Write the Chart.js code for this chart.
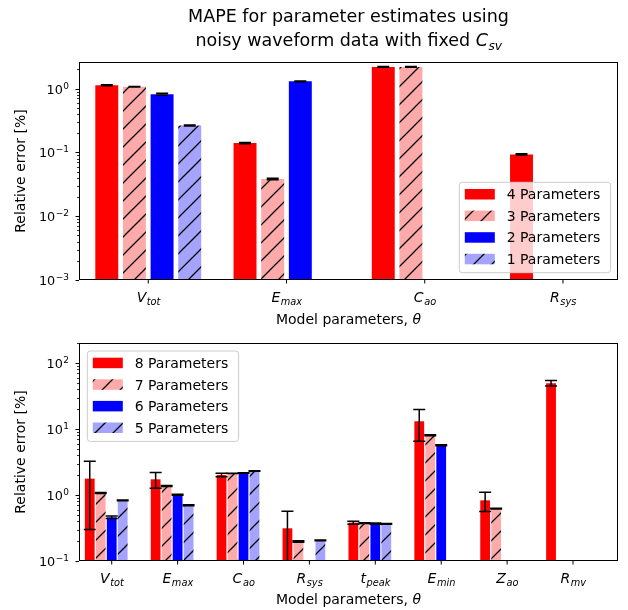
<!DOCTYPE html>
<html><head><meta charset="utf-8">
<script src="https://cdn.jsdelivr.net/npm/chart.js@4.4.1/dist/chart.umd.min.js"></script>
<style>
html,body{margin:0;padding:0;background:#fff;}
#wrap{position:relative;width:628px;height:610px;overflow:hidden;}
canvas{position:absolute;left:0;}
</style>
</head><body>
<div id="wrap">
<canvas id="c1" width="628" height="330" style="top:0px"></canvas>
<canvas id="c2" width="628" height="280" style="top:330px"></canvas>
</div>
<script>
// ---------------- DATA ----------------
const topCategories = ['V_tot', 'E_max', 'C_ao', 'R_sys'];
const topSeriesNames = ['4 Parameters', '3 Parameters', '2 Parameters', '1 Parameters'];
const top4Params = [1.13, 0.14, 2.18, 0.093];
const top3Params = [1.07, 0.0383, 2.18, null];
const top2Params = [0.815, 1.30, null, null];
const top1Params = [0.264, null, null, null];
const top4Err = [0.02, 0.003, 0.03, 0.002];
const top3Err = [0.012, 0.001, 0.03, null];
const top2Err = [0.03, 0.02, null, null];
const top1Err = [0.004, null, null, null];
const topYTickExponents = [-3, -2, -1, 0];

const botCategories = ['V_tot', 'E_max', 'C_ao', 'R_sys', 't_peak', 'E_min', 'Z_ao', 'R_mv'];
const botSeriesNames = ['8 Parameters', '7 Parameters', '6 Parameters', '5 Parameters'];
const bot8Params = [1.77, 1.73, 2.01, 0.313, 0.381, 13.1, 0.83, 49.5];
const bot7Params = [1.07, 1.37, 2.13, 0.198, 0.375, 8.05, 0.622, null];
const bot6Params = [0.459, 1.01, 2.15, null, 0.37, 5.68, null, null];
const bot5Params = [0.83, 0.70, 2.31, 0.205, 0.365, null, null, null];
const bot8Err = [1.47, 0.46, 0.12, 0.253, 0.02, 6.6, 0.27, 4.7];
const bot7Err = [0.02, 0.02, 0.01, 0.005, 0.005, 0.15, 0.01, null];
const bot6Err = [0.02, 0.02, 0.02, null, 0.005, 0.1, null, null];
const bot5Err = [0.01, 0.01, 0.02, 0.003, 0.005, null, null, null];
const botYTickExponents = [-1, 0, 1, 2];

const titleLine1 = 'MAPE for parameter estimates using';
const titleLine2 = 'noisy waveform data with fixed ';
const titleSymbol = 'C_sv';
const yAxisTitle = 'Relative error [%]';
const xAxisTitle = 'Model parameters, ';
const xAxisSymbol = '\u03B8';

// ---------------- STYLE ----------------
const FAM = '"DejaVu Sans", sans-serif';
const RED = '#ff0000', PINK = '#ffaaaa', BLUE = '#0000ff', LBLUE = '#a4a4ff';

function hatch(ctx, color) {
  const s = 18;
  const c = document.createElement('canvas');
  c.width = s; c.height = s;
  const g = c.getContext('2d');
  g.fillStyle = color; g.fillRect(0, 0, s, s);
  g.strokeStyle = '#000'; g.lineWidth = 1.3;
  g.beginPath();
  for (const k of [-s, 0, s]) { g.moveTo(k - 1, s + 1); g.lineTo(k + s + 1, -1); }
  g.stroke();
  return ctx.createPattern(c, 'repeat');
}

function drawSubLabel(ctx, txt, cx, baseline, size) {
  const parts = txt.split('_');
  const m = parts[0], s = parts[1];
  const mf = `italic ${size}px ${FAM}`, sf = `italic ${(size * 0.7).toFixed(1)}px ${FAM}`;
  ctx.font = mf; const mw = ctx.measureText(m).width;
  ctx.font = sf; const sw = s ? ctx.measureText(s).width : 0;
  const x = cx - (mw + sw) / 2;
  ctx.textAlign = 'left'; ctx.textBaseline = 'alphabetic';
  ctx.font = mf; ctx.fillText(m, x, baseline);
  if (s) { ctx.font = sf; ctx.fillText(s, x + mw + 0.5, baseline + size * 0.22); }
  return mw + sw;
}

function drawPow(ctx, exp, right, cy, size) {
  const base = '10', ex = (exp < 0 ? '\u2212' : '') + Math.abs(exp);
  const bf = `${size}px ${FAM}`, ef = `${(size * 0.7).toFixed(1)}px ${FAM}`;
  ctx.font = ef; const ew = ctx.measureText(ex).width;
  ctx.font = bf; const bw = ctx.measureText(base).width;
  const x0 = right - ew - bw - 0.5;
  const bl = cy + size * 0.36;
  ctx.textAlign = 'left'; ctx.textBaseline = 'alphabetic';
  ctx.fillText(base, x0, bl);
  ctx.font = ef; ctx.fillText(ex, x0 + bw + 0.5, bl - size * 0.37);
}

const decor = {
  id: 'decor',
  afterDraw(chart, args, o) {
    const ctx = chart.ctx, a = chart.chartArea;
    const xs = chart.scales.x, ys = chart.scales.y;
    ctx.save();
    ctx.fillStyle = '#000';
    // error bars
    ctx.save();
    ctx.beginPath(); ctx.rect(a.left, a.top, a.right - a.left, a.bottom - a.top); ctx.clip();
    ctx.strokeStyle = '#000'; ctx.lineWidth = 1.5;
    const cap = 6;
    o.errors.forEach((errs, di) => {
      const meta = chart.getDatasetMeta(di);
      const vals = chart.data.datasets[di].data;
      errs.forEach((e, i) => {
        const v = vals[i].y;
        if (v == null || e == null) return;
        const x = meta.data[i].x;
        const yHi = ys.getPixelForValue(v + e);
        const lo = v - e;
        const yLo = lo > 0 ? ys.getPixelForValue(lo) : a.bottom + 30;
        ctx.beginPath();
        ctx.moveTo(x, yHi); ctx.lineTo(x, yLo);
        ctx.moveTo(x - cap, yHi); ctx.lineTo(x + cap, yHi);
        ctx.moveTo(x - cap, yLo); ctx.lineTo(x + cap, yLo);
        ctx.stroke();
      });
    });
    ctx.restore();

    // frame
    ctx.strokeStyle = '#000'; ctx.lineWidth = 1;
    ctx.strokeRect(a.left + 0.5, a.top + 0.5, a.right - a.left - 1, a.bottom - a.top - 1);

    // x ticks & labels
    o.categories.forEach((c, i) => {
      const px = xs.getPixelForValue(i + o.xShift);
      ctx.beginPath(); ctx.moveTo(px, a.bottom); ctx.lineTo(px, a.bottom + 3.5); ctx.stroke();
      drawSubLabel(ctx, c, px, o.xLabelBaseline, 14);
    });

    // y ticks major + minor
    const lmin = Math.log10(ys.min), lmax = Math.log10(ys.max);
    ctx.lineWidth = 0.8;
    for (let k = Math.floor(lmin); k <= Math.ceil(lmax); k++) {
      for (let m = 2; m <= 9; m++) {
        const v = m * Math.pow(10, k);
        if (v < ys.min || v > ys.max) continue;
        const py = Math.round(ys.getPixelForValue(v)) + 0.5;
        ctx.beginPath(); ctx.moveTo(a.left - 2, py); ctx.lineTo(a.left, py); ctx.stroke();
      }
    }
    ctx.lineWidth = 1;
    o.yExps.forEach(e => {
      const py = Math.round(ys.getPixelForValue(Math.pow(10, e))) + 0.5;
      ctx.beginPath(); ctx.moveTo(a.left - 3.5, py); ctx.lineTo(a.left, py); ctx.stroke();
      drawPow(ctx, e, 69, py, 12.8);
    });

    // y axis title
    ctx.save();
    ctx.translate(21, (a.top + a.bottom) / 2);
    ctx.rotate(-Math.PI / 2);
    ctx.font = `14px ${FAM}`; ctx.textAlign = 'center'; ctx.textBaseline = 'middle';
    ctx.fillText(yAxisTitle, 0, 0);
    ctx.restore();

    // x axis title
    ctx.font = `14px ${FAM}`;
    const w1 = ctx.measureText(xAxisTitle).width;
    ctx.font = `italic 14px ${FAM}`;
    const w2 = ctx.measureText(xAxisSymbol).width;
    const xc = (a.left + a.right) / 2;
    let x0 = xc - (w1 + w2) / 2;
    ctx.textAlign = 'left'; ctx.textBaseline = 'alphabetic';
    ctx.font = `14px ${FAM}`; ctx.fillText(xAxisTitle, x0, o.xTitleBaseline);
    ctx.font = `italic 14px ${FAM}`; ctx.fillText(xAxisSymbol, x0 + w1, o.xTitleBaseline);

    // legend
    const L = o.legend;
    const bx = L.x, by = L.y, bw = 151.3, bh = 90.4, r = 3;
    ctx.beginPath();
    ctx.moveTo(bx + r, by); ctx.lineTo(bx + bw - r, by); ctx.quadraticCurveTo(bx + bw, by, bx + bw, by + r);
    ctx.lineTo(bx + bw, by + bh - r); ctx.quadraticCurveTo(bx + bw, by + bh, bx + bw - r, by + bh);
    ctx.lineTo(bx + r, by + bh); ctx.quadraticCurveTo(bx, by + bh, bx, by + bh - r);
    ctx.lineTo(bx, by + r); ctx.quadraticCurveTo(bx, by, bx + r, by);
    ctx.closePath();
    ctx.fillStyle = 'rgba(255,255,255,0.8)'; ctx.fill();
    ctx.strokeStyle = '#cccccc'; ctx.lineWidth = 1; ctx.stroke();
    chart.data.datasets.forEach((ds, k) => {
      const cy = by + 11.9 + k * 21.6;
      ctx.fillStyle = ds.backgroundColor;
      ctx.fillRect(bx + 5.5, cy - 5.2, 30, 10.5);
      ctx.fillStyle = '#000';
      ctx.font = `14px ${FAM}`; ctx.textAlign = 'left'; ctx.textBaseline = 'alphabetic';
      ctx.fillText(ds.label, bx + 47.4, cy + 5);
    });

    // title
    if (o.title) {
      ctx.fillStyle = '#000';
      ctx.textAlign = 'center'; ctx.textBaseline = 'alphabetic';
      ctx.font = `17.5px ${FAM}`;
      ctx.fillText(titleLine1, xc, 22);
      const tw = ctx.measureText(titleLine2).width;
      const [sm, ss] = titleSymbol.split('_');
      ctx.font = `italic 17.5px ${FAM}`; const smw = ctx.measureText(sm).width;
      ctx.font = `italic 12.2px ${FAM}`; const ssw = ctx.measureText(ss).width;
      const tx = xc - (tw + smw + ssw) / 2;
      ctx.textAlign = 'left';
      ctx.font = `17.5px ${FAM}`; ctx.fillText(titleLine2, tx, 46);
      ctx.font = `italic 17.5px ${FAM}`; ctx.fillText(sm, tx + tw, 46);
      ctx.font = `italic 12.2px ${FAM}`; ctx.fillText(ss, tx + tw + smw + 0.5, 49.5);
    }
    ctx.restore();
  }
};

function buildChart(canvasId, cats, names, series, errs, cfg) {
  const canvas = document.getElementById(canvasId);
  const ctx = canvas.getContext('2d');
  const fills = [RED, hatch(ctx, PINK), BLUE, hatch(ctx, LBLUE)];
  const datasets = series.map((vals, k) => ({
    label: names[k],
    data: vals.map((v, i) => ({ x: i, y: v })),
    backgroundColor: fills[k],
    borderWidth: 0,
    categoryPercentage: cfg.catPct,
    barPercentage: cfg.barPct,
  }));
  return new Chart(ctx, {
    type: 'bar',
    data: { datasets },
    options: {
      responsive: false, animation: false, devicePixelRatio: 1,
      layout: { padding: cfg.padding },
      scales: {
        x: {
          type: 'linear', display: false, offset: false, min: cfg.xMin, max: cfg.xMax,
          afterBuildTicks: s => { s.ticks = cats.map((_, i) => ({ value: i })); }
        },
        y: { type: 'logarithmic', display: false, min: cfg.yMin, max: cfg.yMax }
      },
      plugins: {
        legend: { display: false }, tooltip: { enabled: false }, title: { display: false },
        decor: {
          errors: errs, categories: cats, xShift: cfg.xShift, yExps: cfg.yExps,
          xLabelBaseline: cfg.xLabelBaseline, xTitleBaseline: cfg.xTitleBaseline,
          legend: cfg.legend, title: cfg.title
        }
      }
    },
    plugins: [decor]
  });
}

buildChart('c1', topCategories, topSeriesNames,
  [top4Params, top3Params, top2Params, top1Params],
  [top4Err, top3Err, top2Err, top1Err],
  {
    padding: { left: 79, right: 10, top: 62, bottom: 50 },
    xMin: -0.501, xMax: 3.398, xShift: 0, catPct: 0.8, barPct: 0.83,
    yMin: 1e-3, yMax: 2.61, yExps: topYTickExponents,
    xLabelBaseline: 302, xTitleBaseline: 324,
    legend: { x: 459.3, y: 182.3 }, title: true
  });

buildChart('c2', botCategories, botSeriesNames,
  [bot8Params, bot7Params, bot6Params, bot5Params],
  [bot8Err, bot7Err, bot6Err, bot5Err],
  {
    padding: { left: 79, right: 10, top: 13, bottom: 49 },
    xMin: -0.413, xMax: 7.766, xShift: 1 / 12, catPct: 0.6667, barPct: 0.89,
    yMin: 0.1, yMax: 201, yExps: botYTickExponents,
    xLabelBaseline: 253, xTitleBaseline: 274,
    legend: { x: 87.3, y: 21 }, title: false
  });
</script>
</body></html>
